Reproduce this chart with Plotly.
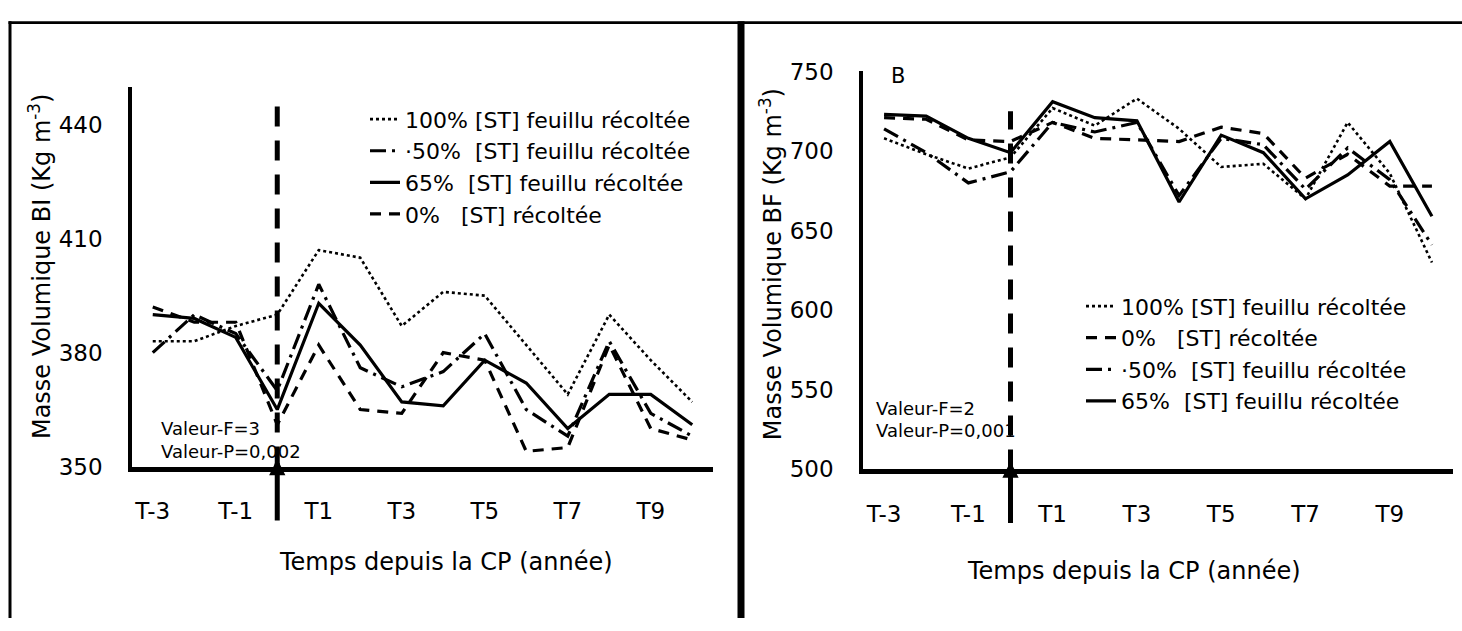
import plotly.graph_objects as go

W, H = 1462, 631

categories = ["T-3", "T-2", "T-1", "T0", "T1", "T2", "T3", "T4", "T5", "T6", "T7", "T8", "T9", "T10"]
tick_labels = ["T-3", "T-1", "T1", "T3", "T5", "T7", "T9"]
cut_category = "T0"

# Panel A : Masse volumique BI
bi_100 = [383, 383, 387, 390, 407, 405, 387, 396, 395, 382, 369, 390, 378, 367]
bi_50 = [380, 390, 385, 370, 398, 376, 371, 375, 385, 365, 358, 383, 364, 358]
bi_65 = [390, 389, 384, 365, 393, 382, 367, 366, 378, 372, 360, 369, 369, 361]
bi_0 = [392, 388, 388, 361, 382, 365, 364, 380, 378, 354, 355, 382, 360, 357]

# Panel B : Masse volumique BF
bf_100 = [708, 698, 689, 696, 727, 716, 733, 714, 690, 692, 670, 718, 686, 630]
bf_0 = [721, 720, 707, 706, 718, 708, 707, 706, 715, 711, 683, 698, 678, 678]
bf_50 = [714, 699, 680, 687, 718, 712, 718, 672, 708, 704, 676, 702, 682, 641]
bf_65 = [723, 722, 708, 699, 731, 721, 719, 668, 710, 699, 670, 685, 706, 659]

lab_100 = "100% [ST] feuillu récoltée"
lab_50 = "\u00b750%  [ST] feuillu récoltée"
lab_65 = "65%  [ST] feuillu récoltée"
lab_0 = "0%   [ST] récoltée"

FONT = "DejaVu Sans"
style = {
    "100": dict(color="black", width=2.6, dash="dot"),
    "50": dict(color="black", width=3.2, dash="16px,6px,3px,6px"),
    "65": dict(color="black", width=3.2, dash="solid"),
    "0": dict(color="black", width=3.2, dash="11px,8px"),
}

def px(v):
    return v / W

def py(v):
    return 1 - v / H

fig = go.Figure()

for name, vals, key in [(lab_100, bi_100, "100"), (lab_50, bi_50, "50"),
                        (lab_65, bi_65, "65"), (lab_0, bi_0, "0")]:
    fig.add_trace(go.Scatter(x=categories, y=vals, mode="lines", name=name,
                             line=style[key], xaxis="x", yaxis="y", legend="legend"))

for name, vals, key in [(lab_100, bf_100, "100"), (lab_0, bf_0, "0"),
                        (lab_50, bf_50, "50"), (lab_65, bf_65, "65")]:
    fig.add_trace(go.Scatter(x=categories, y=vals, mode="lines", name=name,
                             line=style[key], xaxis="x2", yaxis="y2", legend="legend2"))

xaxis_common = dict(type="category", categoryorder="array", categoryarray=categories,
                    range=[-0.5, len(categories) - 0.5], tickmode="array",
                    tickvals=tick_labels, ticktext=tick_labels, showgrid=False,
                    zeroline=False, showline=True, linecolor="black", linewidth=4.5,
                    ticks="", ticklabelstandoff=20,
                    tickfont=dict(family=FONT, size=23, color="black"))
yaxis_common = dict(showgrid=False, zeroline=False, showline=True, linecolor="black",
                    linewidth=3.5, ticks="", ticklabelstandoff=21,
                    tickfont=dict(family=FONT, size=23, color="black"))

fig.update_layout(
    width=W, height=H, margin=dict(l=0, r=0, t=0, b=0),
    paper_bgcolor="white", plot_bgcolor="white",
    xaxis=dict(domain=[px(132), px(713)], anchor="y", **xaxis_common),
    yaxis=dict(domain=[py(473), py(77)], anchor="x", range=[350, 450],
               tickvals=[350, 380, 410, 440], **yaxis_common),
    xaxis2=dict(domain=[px(863), px(1453)], anchor="y2", **xaxis_common),
    yaxis2=dict(domain=[py(476), py(61)], anchor="x2", range=[500, 750],
                tickvals=[500, 550, 600, 650, 700, 750], **yaxis_common),
    legend=dict(x=px(365), y=py(89), xanchor="left", yanchor="top",
                bgcolor="rgba(0,0,0,0)", tracegroupgap=0,
                font=dict(family=FONT, size=22, color="black")),
    legend2=dict(x=px(1081), y=py(284), xanchor="left", yanchor="top",
                 bgcolor="rgba(0,0,0,0)", tracegroupgap=0,
                 font=dict(family=FONT, size=22, color="black")),
    showlegend=True,
)

cut_idx = categories.index(cut_category)

# vertical cut lines (dashed)
fig.add_shape(type="line", xref="x", yref="y", x0=cut_idx, x1=cut_idx, y0=350, y1=448.5,
              line=dict(color="black", width=5, dash="20px,14px"))
fig.add_shape(type="line", xref="x2", yref="y2", x0=cut_idx, x1=cut_idx, y0=500, y1=725,
              line=dict(color="black", width=5, dash="20px,14px"))

# arrows below x axes
for xr, yr, ytip in [("x", "y", 352), ("x2", "y2", 505)]:
    fig.add_annotation(x=cut_idx, y=ytip, xref=xr, yref=yr, ax=0, ay=63, axref="pixel",
                       ayref="pixel", showarrow=True, arrowhead=2, arrowsize=0.65,
                       arrowwidth=5, arrowcolor="black", text="")

# frame borders
fig.add_shape(type="rect", xref="paper", yref="paper", x0=px(8.5), x1=px(1462),
              y0=py(11.5), y1=py(8.5), fillcolor="black", line=dict(width=0), layer="above")
fig.add_shape(type="rect", xref="paper", yref="paper", x0=px(8.5), x1=px(11.5),
              y0=py(631), y1=py(8.5), fillcolor="black", line=dict(width=0), layer="above")
fig.add_shape(type="rect", xref="paper", yref="paper", x0=px(737.5), x1=px(744.5),
              y0=py(631), y1=py(8.5), fillcolor="black", line=dict(width=0), layer="above")

def ann(text, x, y, size, xanchor="center", angle=0):
    fig.add_annotation(text=text, x=px(x), y=py(y), xref="paper", yref="paper",
                       showarrow=False, xanchor=xanchor, yanchor="middle",
                       textangle=angle, font=dict(family=FONT, size=size, color="black"))

ann("Masse Volumique BI (Kg m<sup>-3</sup>)", 40, 265, 24, angle=-90)
ann("Masse Volumique BF (Kg m<sup>-3</sup>)", 771, 262, 24, angle=-90)
ann("Temps depuis la CP (année)", 446, 573, 24)
ann("Temps depuis la CP (année)", 1134, 582, 24)
ann("Valeur-F=3", 159, 433, 18, xanchor="left")
ann("Valeur-P=0,002", 159, 457, 18, xanchor="left")
ann("Valeur-F=2", 874, 412, 18, xanchor="left")
ann("Valeur-P=0,001", 874, 435, 18, xanchor="left")
ann("B", 898, 66, 21, xanchor="center")

fig.write_html("out.html")
